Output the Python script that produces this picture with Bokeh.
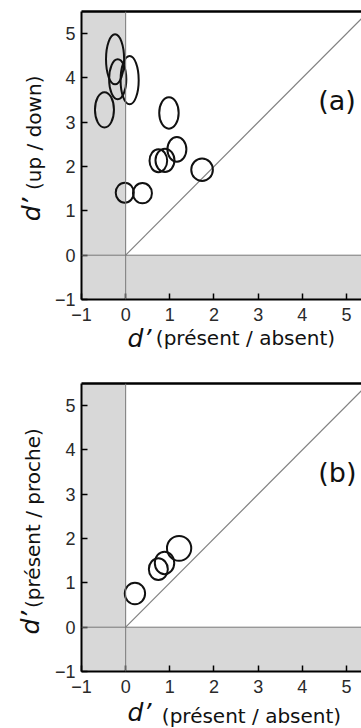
from math import pi
from bokeh.plotting import figure
from bokeh.models import (Label, LinearAxis, FixedTicker, Span, Plot, Range1d,
                          ColumnDataSource, Text)
from bokeh.layouts import column, row
from bokeh.core.properties import value
from bokeh.embed import file_html
from bokeh.resources import INLINE

# ---- data ----
ticks = [-1, 0, 1, 2, 3, 4, 5]
tick_labels = {-1: "\u22121"}
axis_min = -1.0
axis_max = 5.5
x_visible_max = 5.34
diag = [0.0, 5.5]

# panel (a): d' present/absent vs d' up/down (ellipses)
a_x = [-0.24, -0.18, 0.09, -0.48, 0.98, 1.16, 0.74, 0.89, 1.73, -0.02, 0.38]
a_y = [4.42, 3.97, 3.95, 3.28, 3.21, 2.39, 2.13, 2.14, 1.93, 1.41, 1.40]
a_w = [0.41, 0.39, 0.41, 0.43, 0.44, 0.43, 0.40, 0.43, 0.49, 0.41, 0.43]
a_h = [1.13, 0.90, 1.09, 0.80, 0.71, 0.56, 0.52, 0.53, 0.51, 0.45, 0.46]

# panel (b): d' present/absent vs d' present/proche
b_x = [0.21, 0.74, 0.88, 1.21]
b_y = [0.76, 1.31, 1.45, 1.78]
b_w = [0.46, 0.43, 0.44, 0.55]
b_h = [0.49, 0.49, 0.51, 0.56]

x_title = "(pr\u00e9sent / absent)"
ya_title = "(up / down)"
yb_title = "(pr\u00e9sent / proche)"
dprime = "d\u2019"

FONT = "DejaVu Sans"
TICK_FONT = "Liberation Sans"
TXT = "#111111"

W = 361
YW = 50          # width of the y-title strip
HA, HXA = 323, 37
HB, HXB = 336, 32


def make_panel(height, border_top, ex, ey, ew, eh, tag):
    p = figure(width=W - YW, height=height,
               x_range=(axis_min, x_visible_max), y_range=(axis_min, axis_max),
               output_backend="svg", toolbar_location=None,
               min_border_left=81 - YW, min_border_right=0,
               min_border_top=border_top, min_border_bottom=height - border_top - 288)
    p.outline_line_color = None
    p.grid.visible = False
    p.background_fill_color = "white"
    p.border_fill_color = "white"

    p.quad(left=[axis_min], right=[0.0], bottom=[axis_min], top=[axis_max],
           fill_color="#d8d8d8", line_color=None)
    p.quad(left=[0.0], right=[axis_max], bottom=[axis_min], top=[0.0],
           fill_color="#d8d8d8", line_color=None)
    p.add_layout(Span(location=0.0, dimension="height", line_color="#777777", line_width=1))
    p.add_layout(Span(location=0.0, dimension="width", line_color="#777777", line_width=1))
    p.line(x=diag, y=diag, line_color="#808080", line_width=1.2)

    p.ellipse(x=ex, y=ey, width=ew, height=eh, fill_color=None,
              line_color="#111111", line_width=2)

    for ax, standoff in ((p.xaxis[0], 8), (p.yaxis[0], 6)):
        ax.ticker = FixedTicker(ticks=ticks)
        ax.major_label_overrides = tick_labels
        ax.major_tick_in = 6
        ax.major_tick_out = 0
        ax.major_tick_line_width = 1.5
        ax.major_tick_line_color = "black"
        ax.minor_tick_line_color = None
        ax.axis_line_width = 2
        ax.axis_line_color = "black"
        ax.major_label_text_font = TICK_FONT
        ax.major_label_text_font_size = "18px"
        ax.major_label_text_color = "#2a2a2a"
        ax.major_label_standoff = standoff

    top = LinearAxis(ticker=FixedTicker(ticks=[]), axis_line_width=2.5,
                     axis_line_color="black", major_tick_line_color=None,
                     minor_tick_line_color=None, major_label_text_font_size="0px",
                     major_label_standoff=0)
    p.add_layout(top, "above")

    p.add_layout(Label(x=4.36, y=3.49, text=tag, text_font=FONT,
                       text_font_size="27px", text_color=TXT,
                       text_baseline="middle"))
    return p


def blank(width, height):
    return Plot(width=width, height=height,
                x_range=Range1d(0, width), y_range=Range1d(0, height),
                output_backend="svg", toolbar_location=None,
                min_border=0, min_border_left=0, min_border_right=0,
                min_border_top=0, min_border_bottom=0,
                outline_line_color=None, background_fill_color="white",
                border_fill_color="white")


def add_text(f, x, y, txt, size, italic=False, angle=0.0):
    src = ColumnDataSource(dict(x=[x], y=[y], text=[txt]))
    f.add_glyph(src, Text(x="x", y="y", text="text", angle=angle,
                          text_font=value(FONT),
                          text_font_style="italic" if italic else "normal",
                          text_font_size=size, text_color=TXT,
                          text_baseline="middle", text_align="center"))


def x_title_strip(height, top_page, d_cx, d_cy, t_cx, t_cy):
    f = blank(W, height)
    add_text(f, d_cx, height - (d_cy - top_page), dprime, "25px", italic=True)
    add_text(f, t_cx, height - (t_cy - top_page), x_title, "20px")
    return f


def y_title_strip(height, top_page, label, d_cx, d_cy, t_cx, t_cy):
    f = blank(YW, height)
    add_text(f, d_cx, height - (d_cy - top_page), dprime, "25px",
             italic=True, angle=pi / 2)
    add_text(f, t_cx, height - (t_cy - top_page), label, "20px", angle=pi / 2)
    return f


pa = make_panel(HA, 11, a_x, a_y, a_w, a_h, "(a)")
ya = y_title_strip(HA, 0, ya_title, 31, 222, 33, 136)
xa = x_title_strip(HXA, HA, 139, 338, 245, 337)

top_b = HA + HXA
pb = make_panel(HB, 383 - top_b, b_x, b_y, b_w, b_h, "(b)")
yb = y_title_strip(HB, top_b, yb_title, 30, 639, 32, 517)
xb = x_title_strip(HXB, top_b + HB, 139, 712, 251, 715)

layout = column(row(ya, pa, spacing=0), xa, row(yb, pb, spacing=0), xb, spacing=0)
open("out.html", "w").write(file_html(layout, INLINE))
